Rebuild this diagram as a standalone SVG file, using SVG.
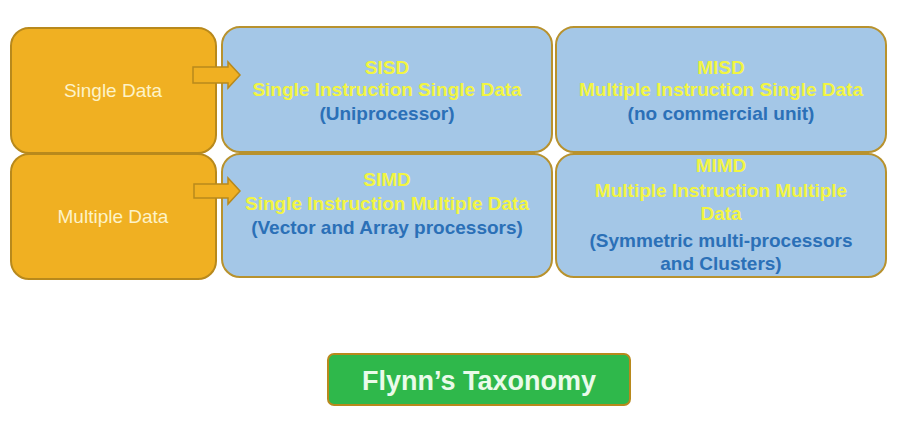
<svg xmlns="http://www.w3.org/2000/svg" width="920" height="424" viewBox="0 0 920 424">
<style>
.org{fill:#f0b022;stroke:#b8891c;stroke-width:2}
.blu{fill:#a4c7e7;stroke:#b8922e;stroke-width:2}
.t{font-family:"Liberation Sans",Arial,sans-serif;text-anchor:middle}
.lt{fill:#fdf3c8;font-size:19px}
.y{fill:#f2f542;font-size:19px;font-weight:bold}
.b{fill:#2b70b7;font-size:19px;font-weight:bold}
.arr{fill:#f0b022;stroke:#b8891c;stroke-width:1.5}
</style>
<rect width="920" height="424" fill="#ffffff"/>
<g id="single-data">
<rect class="org" x="11" y="28" width="205" height="125" rx="18"/>
<text class="t lt" x="113" y="97">Single Data</text>
</g>
<g id="multiple-data">
<rect class="org" x="11" y="154" width="205" height="125" rx="18"/>
<text class="t lt" x="113" y="223">Multiple Data</text>
</g>
<g id="sisd">
<rect class="blu" x="222" y="27" width="330" height="125" rx="18"/>
<text class="t y" x="387" y="74">SISD</text>
<text class="t y" x="387" y="96">Single Instruction Single Data</text>
<text class="t b" x="387" y="120">(Uniprocessor)</text>
</g>
<g id="misd">
<rect class="blu" x="556" y="27" width="330" height="125" rx="18"/>
<text class="t y" x="721" y="74">MISD</text>
<text class="t y" x="721" y="96">Multiple Instruction Single Data</text>
<text class="t b" x="721" y="120">(no commercial unit)</text>
</g>
<g id="simd">
<rect class="blu" x="222" y="154" width="330" height="123" rx="18"/>
<text class="t y" x="387" y="186">SIMD</text>
<text class="t y" x="387" y="210">Single Instruction Multiple Data</text>
<text class="t b" x="387" y="234">(Vector and Array processors)</text>
</g>
<g id="mimd">
<rect class="blu" x="556" y="154" width="330" height="123" rx="18"/>
<text class="t y" x="721" y="172">MIMD</text>
<text class="t y" x="721" y="197">Multiple Instruction Multiple</text>
<text class="t y" x="721" y="220">Data</text>
<text class="t b" x="721" y="247">(Symmetric multi-processors</text>
<text class="t b" x="721" y="270">and Clusters)</text>
</g>
<g id="connectors">
<polygon class="arr" points="193,67 228,67 228,62 240,75 228,88 228,83 193,83"/>
<polygon class="arr" points="194,184 228,184 228,178 240,191 228,204 228,198 194,198"/>
</g>
<g id="flynns-taxonomy">
<rect x="328" y="354" width="302" height="51" rx="6" fill="#2fb84b" stroke="#b8891c" stroke-width="2"/>
<text class="t" x="479" y="390" font-size="27" font-weight="bold" fill="#eafbea">Flynn’s Taxonomy</text>
</g>
</svg>
